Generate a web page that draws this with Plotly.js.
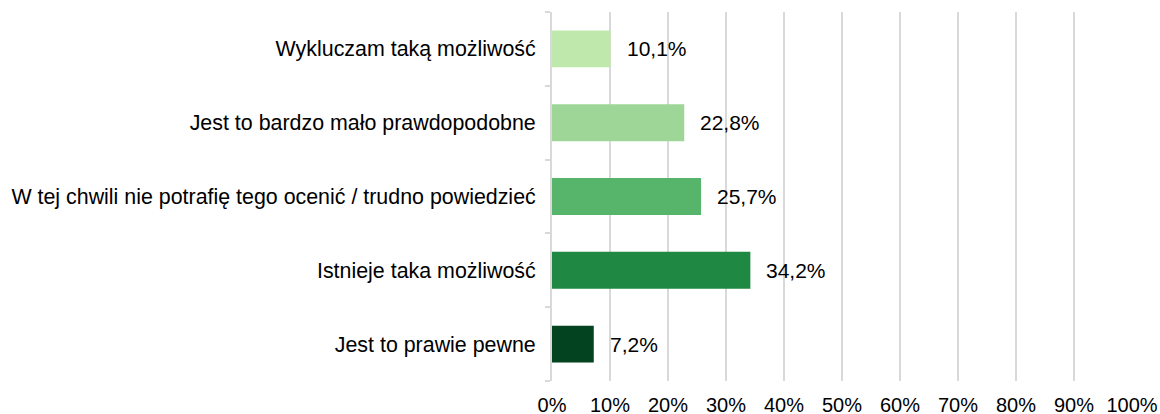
<!DOCTYPE html>
<html>
<head>
<meta charset="utf-8">
<script src="https://cdn.plot.ly/plotly-3.0.1.min.js"></script>
<style>html,body{margin:0;padding:0;background:#fff;}#chart{width:1160px;height:414px;}</style>
</head>
<body>
<div id="chart"></div>
<script>
const categories = [
  "Wykluczam taką możliwość",
  "Jest to bardzo mało prawdopodobne",
  "W tej chwili nie potrafię tego ocenić / trudno powiedzieć",
  "Istnieje taka możliwość",
  "Jest to prawie pewne"
];
const values = [10.1, 22.8, 25.7, 34.2, 7.2];
const barColors = ["#bfe8ad", "#9dd697", "#56b56a", "#1f8843", "#03431f"];
const xTickVals = [0,10,20,30,40,50,60,70,80,90,100];
const xTickText = xTickVals.map(v => v + "%");

const fmt = v => v.toFixed(1).replace(".", ",") + "%";
const FONT = "Liberation Sans, Arial, sans-serif";

const trace = {
  type: "bar",
  orientation: "h",
  y: categories,
  x: values,
  marker: {color: barColors},
  width: 0.5,
  hoverinfo: "none"
};

const annotations = values.map((v, i) => ({
  x: v, y: categories[i], xref: "x", yref: "y",
  text: fmt(v), showarrow: false, xanchor: "left", xshift: 14,
  font: {family: FONT, size: 21, color: "#000"}
}));

const layout = {
  width: 1160, height: 414,
  margin: {l: 552, r: 28, t: 12, b: 33},
  paper_bgcolor: "#fff", plot_bgcolor: "#fff",
  showlegend: false,
  bargap: 0.5,
  xaxis: {
    range: [0, 100],
    tickvals: xTickVals, ticktext: xTickText,
    showgrid: true, gridcolor: "#d9d9d9", gridwidth: 2,
    zeroline: false, showline: false, ticks: "",
    ticklabelstandoff: 10,
    tickfont: {family: FONT, size: 20, color: "#000"},
    fixedrange: true
  },
  yaxis: {
    type: "category",
    categoryorder: "array", categoryarray: categories.slice().reverse(),
    autorange: true,
    showline: true, linecolor: "#d9d9d9", linewidth: 2,
    showgrid: false, zeroline: false,
    ticks: "outside", tickson: "boundaries", ticklen: 5, tickcolor: "#d9d9d9", tickwidth: 2,
    ticklabelstandoff: 10,
    tickfont: {family: FONT, size: 21.4, color: "#000"},
    fixedrange: true
  },
  annotations: annotations
};

Plotly.newPlot("chart", [trace], layout, {displayModeBar: false, staticPlot: true});
</script>
</body>
</html>
